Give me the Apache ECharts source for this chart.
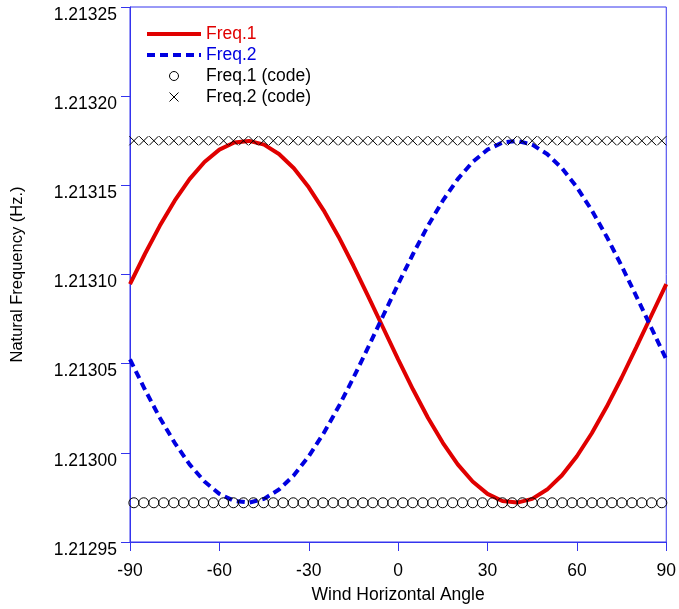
<!DOCTYPE html>
<html>
<head>
<meta charset="utf-8">
<title>Natural Frequency vs Wind Horizontal Angle</title>
<script src="https://cdn.jsdelivr.net/npm/echarts@6/dist/echarts.min.js"></script>
<style>
  html, body { margin: 0; padding: 0; background: #fff; }
  #chart { width: 679px; height: 609px; }
</style>
</head>
<body>
<div id="chart"></div>
<script>
// Wind angle (deg) for the analytic curves
const angles = [-90, -85, -80, -75, -70, -65, -60, -55, -50, -45, -40, -35, -30, -25, -20, -15, -10, -5,
  0, 5, 10, 15, 20, 25, 30, 35, 40, 45, 50, 55, 60, 65, 70, 75, 80, 85, 90];

// Natural frequency of mode 1 (Hz)
const freq1 = [1.2130946, 1.2131115, 1.2131273, 1.2131414, 1.2131535, 1.2131631, 1.2131700, 1.2131740,
  1.2131749, 1.2131728, 1.2131676, 1.2131596, 1.2131489, 1.2131360, 1.2131212, 1.2131049, 1.2130876,
  1.2130700, 1.2130524, 1.2130355, 1.2130197, 1.2130056, 1.2129935, 1.2129839, 1.2129770, 1.2129730,
  1.2129721, 1.2129742, 1.2129794, 1.2129874, 1.2129981, 1.2130110, 1.2130258, 1.2130421, 1.2130594,
  1.2130770, 1.2130946];

// Natural frequency of mode 2 (Hz)
const freq2 = [1.2130524, 1.2130355, 1.2130197, 1.2130056, 1.2129935, 1.2129839, 1.2129770, 1.2129730,
  1.2129721, 1.2129742, 1.2129794, 1.2129874, 1.2129981, 1.2130110, 1.2130258, 1.2130421, 1.2130594,
  1.2130770, 1.2130946, 1.2131115, 1.2131273, 1.2131414, 1.2131535, 1.2131631, 1.2131700, 1.2131740,
  1.2131749, 1.2131728, 1.2131676, 1.2131596, 1.2131489, 1.2131360, 1.2131212, 1.2131049, 1.2130876,
  1.2130700, 1.2130524];

// Angles at which the code results were sampled
const codeAngles = [-88.7, -85.4, -82.0, -78.7, -75.3, -72.0, -68.6, -65.3, -62.0, -58.6, -55.3, -51.9,
  -48.6, -45.2, -41.9, -38.6, -35.2, -31.9, -28.5, -25.2, -21.8, -18.5, -15.2, -11.8, -8.5, -5.1, -1.8,
  1.6, 4.9, 8.3, 11.6, 14.9, 18.3, 21.6, 25.0, 28.3, 31.7, 35.0, 38.3, 41.7, 45.0, 48.4, 51.7, 55.1,
  58.4, 61.7, 65.1, 68.4, 71.8, 75.1, 78.5, 81.8, 85.1, 88.5];

// Code results: constant at every sampled angle
const code1 = [1.212972, 1.212972, 1.212972, 1.212972, 1.212972, 1.212972, 1.212972, 1.212972, 1.212972,
  1.212972, 1.212972, 1.212972, 1.212972, 1.212972, 1.212972, 1.212972, 1.212972, 1.212972, 1.212972,
  1.212972, 1.212972, 1.212972, 1.212972, 1.212972, 1.212972, 1.212972, 1.212972, 1.212972, 1.212972,
  1.212972, 1.212972, 1.212972, 1.212972, 1.212972, 1.212972, 1.212972, 1.212972, 1.212972, 1.212972,
  1.212972, 1.212972, 1.212972, 1.212972, 1.212972, 1.212972, 1.212972, 1.212972, 1.212972, 1.212972,
  1.212972, 1.212972, 1.212972, 1.212972, 1.212972];
const code2 = [1.213175, 1.213175, 1.213175, 1.213175, 1.213175, 1.213175, 1.213175, 1.213175, 1.213175,
  1.213175, 1.213175, 1.213175, 1.213175, 1.213175, 1.213175, 1.213175, 1.213175, 1.213175, 1.213175,
  1.213175, 1.213175, 1.213175, 1.213175, 1.213175, 1.213175, 1.213175, 1.213175, 1.213175, 1.213175,
  1.213175, 1.213175, 1.213175, 1.213175, 1.213175, 1.213175, 1.213175, 1.213175, 1.213175, 1.213175,
  1.213175, 1.213175, 1.213175, 1.213175, 1.213175, 1.213175, 1.213175, 1.213175, 1.213175, 1.213175,
  1.213175, 1.213175, 1.213175, 1.213175, 1.213175];

const seriesNames = ['Freq.1', 'Freq.2', 'Freq.1 (code)', 'Freq.2 (code)'];
const xTicks = { min: -90, max: 90, step: 30 };
const yTicks = { min: 1.21295, max: 1.21325, step: 0.00005 };

const RED = '#e00000';
const BLUE = '#0000e0';
const FRAME = '#3434ee';
const FONT = 'Liberation Sans, Arial, sans-serif';
const FS = 17.5;

const zip = (xs, ys) => xs.map((x, i) => [x, ys[i]]);

// line-only legend entries: hide the marker dot the line icon would carry
const noDot = { color: 'rgba(0,0,0,0)', borderWidth: 0 };
// hollow marker icons with a thin outline
const thinMark = { color: 'rgba(0,0,0,0)', borderColor: '#000', borderWidth: 1 };

const chart = echarts.init(document.getElementById('chart'), null, { renderer: 'canvas' });

chart.setOption({
  animation: false,
  backgroundColor: '#fff',
  textStyle: { fontFamily: FONT },
  grid: {
    left: 130, right: 12, top: 7, bottom: 67,
    show: true, borderColor: FRAME, borderWidth: 1, backgroundColor: 'transparent'
  },
  legend: {
    orient: 'vertical',
    left: 145,
    top: 25,
    padding: 0,
    itemWidth: 54,
    itemHeight: 9,
    itemGap: 3,
    textStyle: { fontSize: FS, fontFamily: FONT, color: '#000' },
    data: [
      { name: seriesNames[0], textStyle: { color: RED }, itemStyle: noDot,
        lineStyle: { color: RED, width: 4 } },
      { name: seriesNames[1], textStyle: { color: BLUE }, itemStyle: noDot,
        lineStyle: { color: BLUE, width: 4, type: [8, 5] } },
      { name: seriesNames[2], itemStyle: thinMark },
      { name: seriesNames[3], itemStyle: thinMark }
    ]
  },
  xAxis: {
    type: 'value',
    min: xTicks.min, max: xTicks.max, interval: xTicks.step,
    name: 'Wind Horizontal Angle',
    nameLocation: 'middle',
    nameGap: 44,
    nameTextStyle: { fontSize: FS, color: '#000', fontFamily: FONT },
    axisLine: { show: true, onZero: false, lineStyle: { color: FRAME, width: 1 } },
    axisTick: { show: true, inside: false, length: 9, lineStyle: { color: FRAME } },
    axisLabel: { fontSize: FS, color: '#000', margin: 20, fontFamily: FONT },
    splitLine: { show: false }
  },
  yAxis: {
    type: 'value',
    min: yTicks.min, max: yTicks.max, interval: yTicks.step,
    name: 'Natural Frequency (Hz.)',
    nameLocation: 'middle',
    nameGap: 104,
    nameTextStyle: { fontSize: 16.5, color: '#000', fontFamily: FONT },
    axisLine: { show: true, onZero: false, lineStyle: { color: FRAME, width: 1 } },
    axisTick: { show: true, inside: false, length: 9, lineStyle: { color: FRAME } },
    axisLabel: {
      fontSize: FS, color: '#000', margin: 13, fontFamily: FONT,
      verticalAlign: 'top',
      lineHeight: 16,
      formatter: v => v.toFixed(5)
    },
    splitLine: { show: false }
  },
  series: [
    {
      name: seriesNames[0],
      type: 'line',
      data: zip(angles, freq1),
      symbol: 'none',
      smooth: false,
      lineStyle: { color: RED, width: 4 },
      itemStyle: { color: RED },
      z: 2
    },
    {
      name: seriesNames[1],
      type: 'line',
      data: zip(angles, freq2),
      symbol: 'none',
      smooth: false,
      lineStyle: { color: BLUE, width: 4, type: [8, 5] },
      itemStyle: { color: BLUE },
      z: 2
    },
    {
      name: seriesNames[2],
      type: 'scatter',
      data: zip(codeAngles, code1),
      symbol: 'circle',
      symbolSize: 10,
      itemStyle: { color: 'rgba(0,0,0,0)', borderColor: '#000', borderWidth: 1, opacity: 1 },
      z: 3
    },
    {
      name: seriesNames[3],
      type: 'scatter',
      data: zip(codeAngles, code2),
      symbol: 'path://M0,0L10,10M10,0L0,10',
      symbolSize: 9,
      itemStyle: { color: 'rgba(0,0,0,0)', borderColor: '#000', borderWidth: 1, opacity: 1 },
      z: 3
    }
  ]
});
</script>
</body>
</html>
